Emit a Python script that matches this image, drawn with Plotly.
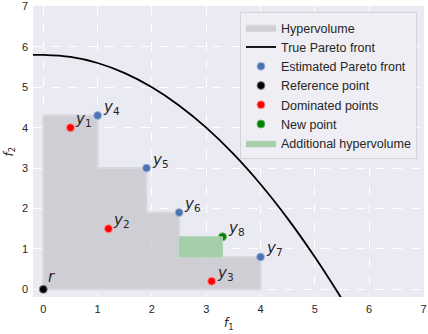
import plotly.graph_objects as go

# ---- data ----
front_x = [1.0, 1.9, 2.5, 4.0]          # estimated Pareto front y4..y7
front_y = [4.3, 3.0, 1.9, 0.8]
front_labels = ["4", "5", "6", "7"]

dom_x = [0.5, 1.2, 3.1]                 # dominated points y1..y3
dom_y = [4.0, 1.5, 0.2]
dom_labels = ["1", "2", "3"]

new_x = [3.3]                           # new point y8
new_y = [1.3]
new_labels = ["8"]

ref_x = [0.0]
ref_y = [0.0]

true_x = [-0.3, 0.0, 0.5, 1.0, 1.5, 2.0, 2.5, 3.0, 3.5, 4.0, 4.5, 5.0, 5.4, 5.6]
true_y = [5.8, 5.8, 5.75, 5.6, 5.35, 5.0, 4.55, 4.0, 3.35, 2.6, 1.75, 0.8, -0.03, -0.47]

x_ticks = [0, 1, 2, 3, 4, 5, 6, 7]
y_ticks = [0, 1, 2, 3, 4, 5, 6, 7]

# ---- build hypervolume staircase from the front ----
hv_x = [ref_x[0], ref_x[0]]
hv_y = [ref_y[0], front_y[0]]
for i, (fx, fy) in enumerate(zip(front_x, front_y)):
    hv_x.append(fx)
    hv_y.append(fy)
    nxt = front_y[i + 1] if i + 1 < len(front_y) else ref_y[0]
    hv_x.append(fx)
    hv_y.append(nxt)
hv_x.append(ref_x[0])
hv_y.append(ref_y[0])

# additional hypervolume: between the new point and the front
add_x = [front_x[2], new_x[0], new_x[0], front_x[2], front_x[2]]
add_y = [front_y[3], front_y[3], new_y[0], new_y[0], front_y[3]]

fig = go.Figure()

fig.add_trace(go.Scatter(x=hv_x, y=hv_y, mode="lines", fill="toself",
                         fillcolor="rgba(196,196,202,0.75)",
                         line=dict(color="rgba(215,215,220,1)", width=2),
                         name="Hypervolume"))
fig.add_trace(go.Scatter(x=true_x, y=true_y, mode="lines",
                         line=dict(color="black", width=1.8, shape="spline"),
                         name="True Pareto front"))
fig.add_trace(go.Scatter(x=front_x, y=front_y, mode="markers",
                         marker=dict(color="#4c72b0", size=8,
                                     line=dict(color="#a8bde0", width=1)),
                         name="Estimated Pareto front"))
fig.add_trace(go.Scatter(x=ref_x, y=ref_y, mode="markers",
                         marker=dict(color="black", size=8,
                                     line=dict(color="#888888", width=1)),
                         name="Reference point"))
fig.add_trace(go.Scatter(x=dom_x, y=dom_y, mode="markers",
                         marker=dict(color="red", size=8,
                                     line=dict(color="#ff9090", width=1)),
                         name="Dominated points"))
fig.add_trace(go.Scatter(x=new_x, y=new_y, mode="markers",
                         marker=dict(color="green", size=8,
                                     line=dict(color="#70b070", width=1)),
                         name="New point"))
fig.add_trace(go.Scatter(x=add_x, y=add_y, mode="lines", fill="toself",
                         fillcolor="rgba(160,205,165,0.95)",
                         line=dict(color="rgba(170,210,175,1)", width=1),
                         name="Additional hypervolume"))

def label(xs, ys, subs):
    for x, y, s in zip(xs, ys, subs):
        fig.add_annotation(x=x, y=y, text=f"<i>y</i><sub>{s}</sub>",
                           showarrow=False, xanchor="left", yanchor="middle",
                           xshift=3, yshift=8,
                           font=dict(family="DejaVu Sans", size=15, color="#262626"))

label(front_x, front_y, front_labels)
label(dom_x, dom_y, dom_labels)
label(new_x, new_y, new_labels)
fig.add_annotation(x=ref_x[0], y=ref_y[0], text="<i>r</i>", showarrow=False,
                   xanchor="left", yanchor="middle", xshift=3, yshift=12,
                   font=dict(family="DejaVu Sans", size=15, color="#262626"))

# axis titles as annotations
fig.add_annotation(xref="paper", yref="paper", x=0.5, y=0, yshift=-37,
                   text="<i>f</i><sub>1</sub>", showarrow=False,
                   xanchor="center", yanchor="bottom",
                   font=dict(family="DejaVu Sans", size=12, color="#262626"))
fig.add_annotation(xref="paper", yref="paper", x=0, y=0.5, xshift=-24,
                   text="<i>f</i><sub>2</sub>", showarrow=False, textangle=-90,
                   xanchor="center", yanchor="middle",
                   font=dict(family="DejaVu Sans", size=12, color="#262626"))

axis_common = dict(showgrid=True, gridcolor="white", griddash="dash", gridwidth=1,
                   zeroline=False, showline=False, ticks="", automargin=False,
                   tickfont=dict(family="Liberation Sans", size=11, color="#262626"))

fig.update_layout(
    width=428, height=334,
    margin=dict(l=33, r=4, t=6, b=37),
    paper_bgcolor="white", plot_bgcolor="#eaeaf2",
    xaxis=dict(range=[-0.19, 7.01], tickvals=x_ticks, ticklabelstandoff=4,
               **axis_common),
    yaxis=dict(range=[-0.19, 7.01], tickvals=y_ticks, ticklabelstandoff=4,
               **axis_common),
    legend=dict(x=0.982, y=0.979, xanchor="right", yanchor="top",
                bgcolor="rgba(238,238,244,0.9)", bordercolor="#d4d4d8", borderwidth=1,
                font=dict(family="Liberation Sans", size=12.5, color="#262626"),
                tracegroupgap=0, itemwidth=30),
    showlegend=True,
)

fig.write_html("out.html", config={"displayModeBar": False},
               post_script="document.body.style.margin='0px';")
